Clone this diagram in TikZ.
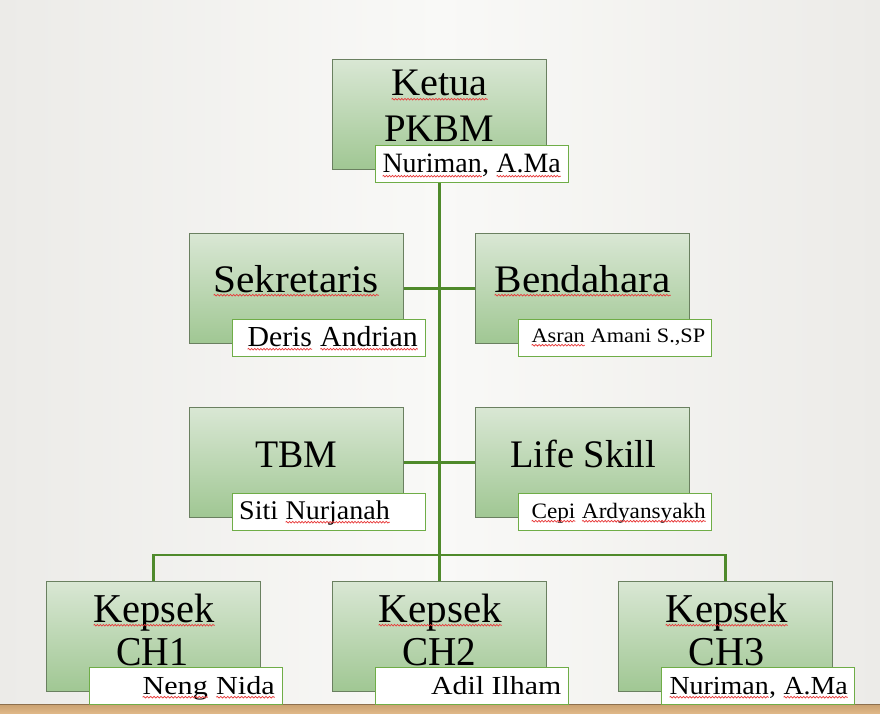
\documentclass[tikz,border=0pt]{standalone}
\usepackage{graphicx}
\usepackage{fontspec}
\setmainfont{Liberation Serif}
\usetikzlibrary{decorations.pathmorphing}
\definecolor{bgside}{HTML}{ECEBE8}
\definecolor{bgmid}{HTML}{F9F9F7}
\definecolor{woodA}{HTML}{C9A070}
\definecolor{woodB}{HTML}{E2BA8A}
\definecolor{boxtop}{HTML}{D9E7D4}
\definecolor{boxbot}{HTML}{A0C793}
\definecolor{boxline}{HTML}{6A8060}
\definecolor{namegreen}{HTML}{6FAD47}
\definecolor{linegreen}{HTML}{4F8A2B}
\definecolor{squig}{HTML}{E83A3A}
\newcommand\sq[1]{\tikz[baseline=(w.base),x=1pt,y=1pt]{\node[inner sep=0pt,outer sep=0pt,anchor=base west] (w) at (0,0) {#1};
  \draw[squig,line width=0.7pt,decorate,decoration={snake,amplitude=0.8pt,segment length=3pt}] ([yshift=-3.2pt]w.base west) -- ([yshift=-3.2pt]w.base east);}}
\newcommand\fitw[3]{\resizebox{#1pt}{\height}{\fontsize{#2}{#2}\selectfont #3}}
\pgfdeclarelayer{background}
\pgfdeclarelayer{lines}
\pgfsetlayers{background,lines,main}
\tikzset{
  titlebox/.style={draw=boxline, line width=0.9pt, top color=boxtop, bottom color=boxbot,
    minimum width=214pt, minimum height=110pt, anchor=north west, inner sep=0pt},
  namebox/.style={draw=namegreen, line width=1.3pt, fill=white,
    minimum width=193pt, minimum height=37pt, anchor=north west, inner sep=0pt},
  txt/.style={anchor=base west, inner sep=0pt, text=black},
  trunk/.style={draw=linegreen, line width=3pt},
  branch/.style={draw=linegreen, line width=2.2pt},
}
\begin{document}
\begin{tikzpicture}[x=1pt,y=-1pt]
\useasboundingbox (0,0) rectangle (880,714);
\begin{pgfonlayer}{background}
  \fill[left color=bgside, right color=bgside, middle color=bgmid] (0,0) rectangle (880,704);
  \fill[top color=woodA, bottom color=woodB] (0,704) rectangle (880,714);
  \draw[woodA!70!black, line width=0.8pt] (0,704.4) -- (880,704.4);
\end{pgfonlayer}

% title boxes
\node[titlebox] (ketua) at (332,59) {};
\node[titlebox] (sek) at (189,233) {};
\node[titlebox] (bend) at (475,233) {};
\node[titlebox] (tbm) at (189,407) {};
\node[titlebox] (life) at (475,407) {};
\node[titlebox] (ch1) at (46,581) {};
\node[titlebox] (ch2) at (332,581) {};
\node[titlebox] (ch3) at (618,581) {};

% name boxes
\node[namebox] (nketua) at (375,145) {};
\node[namebox] (nsek) at (232,319) {};
\node[namebox] (nbend) at (518,319) {};
\node[namebox] (ntbm) at (232,493) {};
\node[namebox] (nlife) at (518,493) {};
\node[namebox] (nch1) at (89,667) {};
\node[namebox] (nch2) at (375,667) {};
\node[namebox] (nch3) at (661,667) {};

% connectors
\coordinate (bus) at (439,555);
\begin{pgfonlayer}{lines}
  \draw[trunk] (ketua.south) -- (ch2.north);
  \draw[branch] (sek.east) -- (bend.west);
  \draw[branch] (tbm.east) -- (life.west);
  \draw[branch] (ch1.north) |- (bus) -| (ch3.north);
\end{pgfonlayer}

% titles
\node[txt] (tketua) at (391,96) {\fitw{97}{39}{\sq{Ketua}}};
\node[txt] (tpkbm) at (384,142) {\fitw{110}{39}{PKBM}};
\node[txt] (tsek) at (213,292) {\fitw{166}{39}{\sq{Sekretaris}}};
\node[txt] (tbend) at (494,292) {\fitw{177}{39}{\sq{Bendahara}}};
\node[txt] (ttbm) at (255,467) {\fitw{82}{39}{TBM}};
\node[txt] (tlife) at (510,467) {\fitw{146}{39}{Life Skill}};
\node[txt] (tk1) at (93,622) {\fitw{122}{41}{\sq{Kepsek}}};
\node[txt] (tc1) at (116,665) {\fitw{72}{41}{CH1}};
\node[txt] (tk2) at (378,622) {\fitw{124}{41}{\sq{Kepsek}}};
\node[txt] (tc2) at (402,665) {\fitw{74}{41}{CH2}};
\node[txt] (tk3) at (665,622) {\fitw{123}{41}{\sq{Kepsek}}};
\node[txt] (tc3) at (688,665) {\fitw{76}{41}{CH3}};

% names
\node[txt] (mketua) at (382,173) {\fitw{179}{28}{\sq{Nuriman}, \sq{A.Ma}}};
\node[txt] (msek) at (247,346) {\fitw{171}{29}{\sq{Deris} \sq{Andrian}}};
\node[txt] (mbend) at (531,342) {\fitw{174}{20.5}{\sq{Asran} Amani S.,SP}};
\node[txt] (mtbm) at (239,519) {\fitw{151}{27}{Siti \sq{Nurjanah}}};
\node[txt] (mlife) at (531,518) {\fitw{175}{22}{\sq{Cepi} \sq{Ardyansyakh}}};
\node[txt] (mch1) at (142,694) {\fitw{133}{26}{\sq{Neng} \sq{Nida}}};
\node[txt] (mch2) at (431,694) {\fitw{130}{26}{Adil Ilham}};
\node[txt] (mch3) at (669,694) {\fitw{179}{26}{\sq{Nuriman}, \sq{A.Ma}}};
\end{tikzpicture}
\end{document}
